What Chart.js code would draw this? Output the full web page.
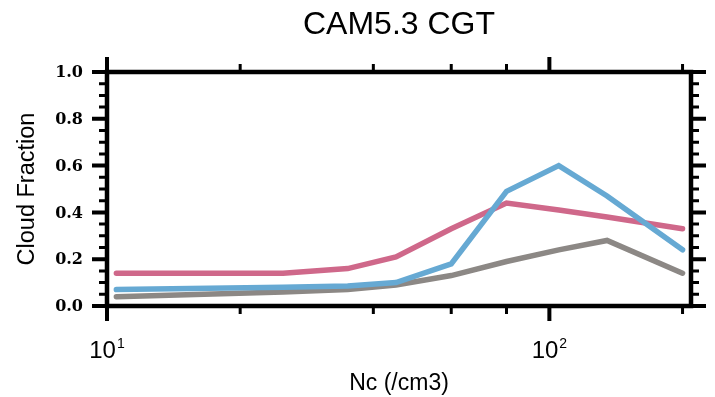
<!DOCTYPE html>
<html lang="en">
<head>
<meta charset="UTF-8">
<title>CAM5.3 CGT</title>
<script src="https://cdn.jsdelivr.net/npm/chart.js"></script>
<style>
  body { margin: 0; background: #fff; }
  #wrap { width: 715px; height: 397px; position: relative; }
</style>
</head>
<body>
<div id="wrap"><canvas id="cfChart"></canvas></div>
<script>
  // droplet number bins (/cm3) and cloud fraction per run
  const ncBins = [10.5, 25, 35, 45, 60, 80, 105, 135, 200];
  const cfBlue = [0.07, 0.08, 0.085, 0.10, 0.18, 0.49, 0.60, 0.47, 0.24];
  const cfPink = [0.14, 0.14, 0.16, 0.21, 0.33, 0.44, 0.41, 0.38, 0.33];
  const cfGray = [0.04, 0.06, 0.07, 0.09, 0.13, 0.19, 0.24, 0.28, 0.14];

  const yMajorTicks = [0, 0.2, 0.4, 0.6, 0.8, 1.0];
  const yTickLabels = ['0.0', '0.2', '0.4', '0.6', '0.8', '1.0'];
  const xMajorTicks = [10, 100];
  const xMajorExp = ['1', '2'];
  const xMinorTicks = [20, 40, 60, 80, 200];

  function pts(ys) {
    return ncBins.map((x, i) => ({ x: x, y: ys[i] }));
  }

  // NCL style frame: thick box, outward ticks on all four sides
  const nclFrame = {
    id: 'nclFrame',
    afterDraw(chart) {
      const ctx = chart.ctx;
      const xs = chart.scales.x, ys = chart.scales.y;
      const a = chart.chartArea;
      const L = a.left, R = a.right, T = a.top, B = a.bottom;
      ctx.save();
      ctx.strokeStyle = '#000';
      ctx.lineCap = 'butt';

      // y ticks, left and right
      for (let v = 0; v <= 1.0001; v += 0.05) {
        const y = ys.getPixelForValue(v);
        const major = Math.abs(v * 5 - Math.round(v * 5)) < 1e-6;
        const len = major ? 15 : 8;
        ctx.lineWidth = major ? 4 : 3;
        ctx.beginPath();
        ctx.moveTo(L, y); ctx.lineTo(L - len, y);
        ctx.moveTo(R, y); ctx.lineTo(R + len, y);
        ctx.stroke();
      }

      // x ticks, bottom and top
      xMajorTicks.forEach(v => {
        const x = xs.getPixelForValue(v);
        ctx.lineWidth = 4;
        ctx.beginPath();
        ctx.moveTo(x, B); ctx.lineTo(x, B + 15);
        ctx.moveTo(x, T); ctx.lineTo(x, T - 15);
        ctx.stroke();
      });
      xMinorTicks.forEach(v => {
        const x = xs.getPixelForValue(v);
        ctx.lineWidth = 3;
        ctx.beginPath();
        ctx.moveTo(x, B); ctx.lineTo(x, B + 8);
        ctx.moveTo(x, T); ctx.lineTo(x, T - 8);
        ctx.stroke();
      });

      // box
      ctx.lineWidth = 4.5;
      ctx.strokeRect(L, T, R - L, B - T);

      // y tick labels
      ctx.fillStyle = '#000';
      ctx.font = 'bold 16px "DejaVu Serif"';
      ctx.textAlign = 'right';
      ctx.textBaseline = 'middle';
      yMajorTicks.forEach((v, i) => {
        ctx.fillText(yTickLabels[i], L - 24, ys.getPixelForValue(v) + 1);
      });

      // x tick labels as powers of ten
      ctx.textBaseline = 'alphabetic';
      xMajorTicks.forEach((v, i) => {
        const x = xs.getPixelForValue(v);
        ctx.font = '24px "Liberation Sans"';
        const wBase = ctx.measureText('10').width;
        ctx.font = '14px "Liberation Sans"';
        const wExp = ctx.measureText(xMajorExp[i]).width;
        const x0 = x - (wBase + 1 + wExp) / 2;
        ctx.textAlign = 'left';
        ctx.font = '24px "Liberation Sans"';
        ctx.fillText('10', x0, B + 52);
        ctx.font = '14px "Liberation Sans"';
        ctx.fillText(xMajorExp[i], x0 + wBase + 1, B + 42);
      });

      // axis titles and main title
      ctx.textAlign = 'center';
      ctx.font = '23px "Liberation Sans"';
      ctx.fillText('Nc (/cm3)', (L + R) / 2, B + 84);
      ctx.font = '32px "Liberation Sans"';
      ctx.fillText('CAM5.3 CGT', (L + R) / 2, 34);

      ctx.save();
      ctx.translate(28, (T + B) / 2);
      ctx.rotate(-Math.PI / 2);
      ctx.font = '23.5px "Liberation Sans"';
      ctx.textBaseline = 'middle';
      ctx.fillText('Cloud Fraction', 0, 0);
      ctx.restore();

      ctx.restore();
    }
  };

  const cfChart = new Chart(document.getElementById('cfChart'), {
    type: 'line',
    data: {
      datasets: [
        { data: pts(cfBlue), borderColor: 'rgb(102, 169, 211)', order: 1 },
        { data: pts(cfPink), borderColor: 'rgb(207, 104, 138)', order: 2 },
        { data: pts(cfGray), borderColor: 'rgb(140, 136, 133)', order: 3 }
      ]
    },
    options: {
      responsive: true,
      maintainAspectRatio: false,
      devicePixelRatio: 1,
      animation: false,
      layout: { padding: { left: 107, right: 24, top: 72, bottom: 91 } },
      elements: {
        line: { borderWidth: 5.5, tension: 0, borderJoinStyle: 'miter', borderCapStyle: 'round' },
        point: { radius: 0 }
      },
      scales: {
        x: { type: 'logarithmic', min: 10, max: 209, bounds: 'data', display: false },
        y: { type: 'linear', min: 0, max: 1, display: false }
      },
      plugins: {
        legend: { display: false },
        tooltip: { enabled: false }
      }
    },
    plugins: [nclFrame]
  });
</script>
</body>
</html>
